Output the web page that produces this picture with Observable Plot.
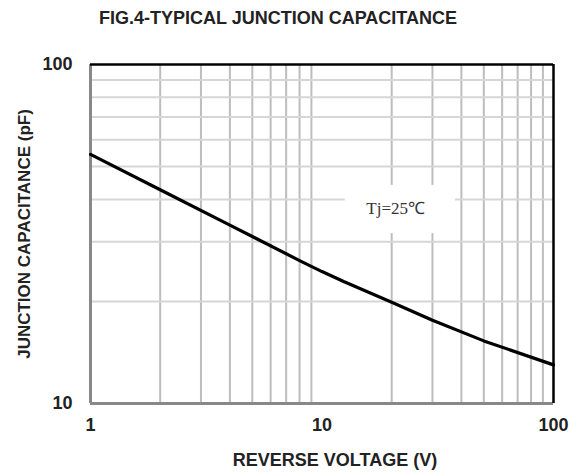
<!DOCTYPE html>
<html>
<head>
<meta charset="utf-8">
<script src="https://cdn.jsdelivr.net/npm/d3@7"></script>
<script src="https://cdn.jsdelivr.net/npm/@observablehq/plot@0.6"></script>
<style>
  html, body { margin: 0; padding: 0; background: #fff; }
</style>
</head>
<body>
<div id="chart"></div>
<script>
const titleText = "FIG.4-TYPICAL JUNCTION CAPACITANCE";
const xLabel = "REVERSE VOLTAGE (V)";
const yLabel = "JUNCTION CAPACITANCE (pF)";
const noteText = "Tj=25\u2103";

const voltage = [1, 2, 4, 8, 10, 12.4, 20, 30, 50, 100];
const capacitance = [54.3, 42.7, 33.6, 26.4, 24.5, 22.9, 19.9, 17.6, 15.3, 13.0];

const xTicks = [1, 10, 100];
const yTicks = [10, 100];
const xGrid = [2, 3, 4, 5, 6, 7, 8, 9, 20, 30, 40, 50, 60, 70, 80, 90];
const yGrid = [20, 30, 40, 50, 60, 70, 80, 90];

const noteX = [20.8];
const noteY = [37.6];
const noteBoxX = [12.6, 37.7];
const noteBoxY = [31.7, 44.0];

const curve = voltage.map((v, i) => ({v, c: capacitance[i]}));

const font = "'Liberation Sans', Arial, sans-serif";

const chart = Plot.plot({
  width: 582,
  height: 472,
  marginLeft: 90,
  marginRight: 29,
  marginTop: 64,
  marginBottom: 69,
  style: {fontFamily: font, fontSize: "18px", fontWeight: "bold", color: "#222", background: "#fff"},
  x: {type: "log", domain: [1, 100], ticks: xTicks, tickFormat: d => String(d), tickSize: 0, tickPadding: 15, label: null},
  y: {type: "log", domain: [10, 100], ticks: yTicks, tickFormat: d => String(d), tickSize: 0, tickPadding: 18, label: null},
  marks: [
    Plot.ruleX(xGrid, {stroke: "#bdbdbd", strokeWidth: 2}),
    Plot.ruleY(yGrid, {stroke: "#d6d6d6", strokeWidth: 2}),
    Plot.rect([0], {x1: noteBoxX[0], x2: noteBoxX[1], y1: noteBoxY[0], y2: noteBoxY[1], fill: "#fff"}),
    Plot.text([noteText], {x: noteX[0], y: noteY[0], fontFamily: "'Liberation Serif', 'Times New Roman', serif", fontWeight: "normal", fontSize: 17, fill: "#333"}),
    Plot.ruleX([1], {stroke: "#888", strokeWidth: 3}),
    Plot.ruleY([10], {stroke: "#888", strokeWidth: 3}),
    Plot.ruleX([100], {stroke: "#000", strokeWidth: 2.5}),
    Plot.ruleY([100], {stroke: "#000", strokeWidth: 2.5}),
    Plot.line(curve, {x: "v", y: "c", stroke: "#000", strokeWidth: 3.2}),
    Plot.text([titleText], {frameAnchor: "top", dy: -46, dx: -44, fontSize: 18, fill: "#222", textAnchor: "middle", lineAnchor: "middle"}),
    Plot.text([xLabel], {frameAnchor: "bottom", dy: 57, dx: 13, fontSize: 18, fill: "#222", textAnchor: "middle", lineAnchor: "middle"}),
    Plot.text([yLabel], {frameAnchor: "left", dx: -66, rotate: -90, fontSize: 17, fill: "#222", textAnchor: "middle", lineAnchor: "middle"})
  ]
});
document.getElementById("chart").appendChild(chart);
</script>
</body>
</html>
